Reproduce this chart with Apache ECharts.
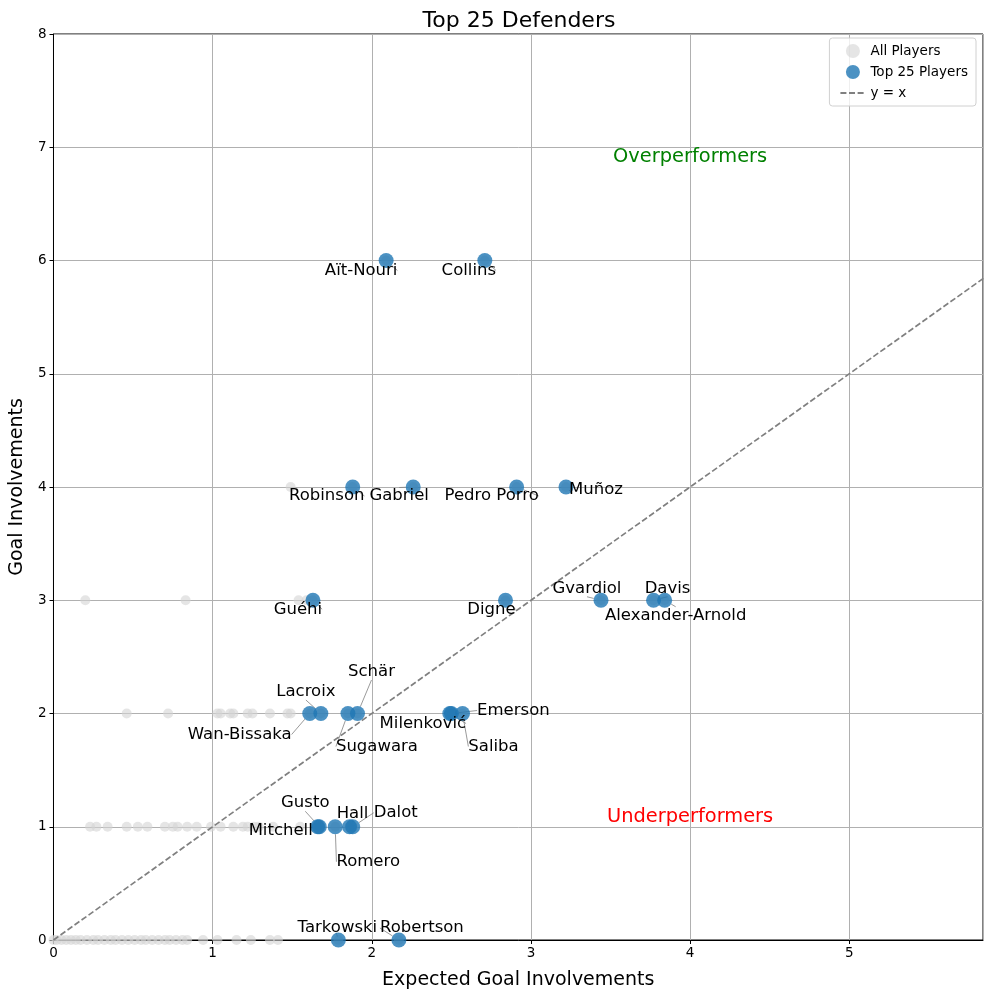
<!DOCTYPE html>
<html>
<head>
<meta charset="utf-8">
<script src="https://cdn.jsdelivr.net/npm/echarts@6/dist/echarts.min.js"></script>
<style>
  html, body { margin: 0; padding: 0; background: #fff; }
  #chart { width: 993px; height: 998px; }
</style>
</head>
<body>
<div id="chart"></div>
<script>
// top 25 defenders
var topNames = ['Aït-Nouri', 'Collins', 'Robinson', 'Gabriel', 'Pedro Porro', 'Muñoz',
  'Guéhi', 'Digne', 'Gvardiol', 'Davis', 'Alexander-Arnold',
  'Wan-Bissaka', 'Lacroix', 'Sugawara', 'Schär', 'Milenković', 'Emerson', 'Saliba',
  'Mitchell', 'Gusto', 'Romero', 'Hall', 'Dalot', 'Tarkowski', 'Robertson'];
var topXg = [2.09, 2.71, 1.88, 2.26, 2.91, 3.22,
  1.63, 2.84, 3.44, 3.77, 3.84,
  1.61, 1.68, 1.85, 1.91, 2.49, 2.50, 2.57,
  1.66, 1.67, 1.77, 1.86, 1.88, 1.79, 2.17];
var topGi = [6, 6, 4, 4, 4, 4,
  3, 3, 3, 3, 3,
  2, 2, 2, 2, 2, 2, 2,
  1, 1, 1, 1, 1, 0, 0];

// other players, grouped by goal involvements
var restGi0 = [0.00, 0.02, 0.05, 0.08, 0.11, 0.14, 0.17, 0.21, 0.25, 0.28, 0.32, 0.36, 0.39,
  0.43, 0.47, 0.51, 0.55, 0.58, 0.62, 0.66, 0.70, 0.73, 0.77, 0.81, 0.84,
  0.94, 1.03, 1.15, 1.24, 1.36, 1.41];
var restGi1 = [0.23, 0.27, 0.34, 0.46, 0.53, 0.59, 0.70, 0.75, 0.78, 0.84, 0.90, 0.99,
  1.05, 1.13, 1.19, 1.22, 1.26, 1.29, 1.38, 1.55];
var restGi2 = [0.46, 0.72, 1.03, 1.05, 1.11, 1.13, 1.22, 1.25, 1.36, 1.47, 1.49];
var restGi3 = [0.20, 0.83, 1.54, 1.59];
var restGi4 = [1.49];

var xTicks = [0, 1, 2, 3, 4, 5];
var yTicks = [0, 1, 2, 3, 4, 5, 6, 7, 8];

// label placement (pixel shift from the point centre)
var labelShift = {
  'Aït-Nouri': [-25, 10], 'Collins': [-16, 10], 'Robinson': [-26, 9], 'Gabriel': [-14, 9],
  'Pedro Porro': [-25, 9], 'Muñoz': [30, 3], 'Guéhi': [-15, 9], 'Digne': [-14, 9],
  'Gvardiol': [-14, -12], 'Davis': [14, -12], 'Alexander-Arnold': [11, 15],
  'Wan-Bissaka': [-70, 21], 'Lacroix': [-15, -22], 'Sugawara': [29, 33], 'Schär': [14, -42],
  'Milenković': [-27, 10], 'Emerson': [62, -3], 'Saliba': [31, 33],
  'Mitchell': [-37, 4], 'Gusto': [-14, -24], 'Romero': [33, 35], 'Hall': [3, -13],
  'Dalot': [43, -14], 'Tarkowski': [-1, -12], 'Robertson': [23, -12]
};

var restData = [];
[restGi0, restGi1, restGi2, restGi3, restGi4].forEach(function (arr, gi) {
  arr.forEach(function (x) { restData.push([x, gi]); });
});
topNames.forEach(function (n, i) { restData.push([topXg[i], topGi[i]]); });

var topData = topNames.map(function (n, i) {
  return { name: n, value: [topXg[i], topGi[i]] };
});

var font = 'DejaVu Sans';
var chart = echarts.init(document.getElementById('chart'));
chart.setOption({
  animation: false,
  textStyle: { fontFamily: font },
  title: {
    text: 'Top 25 Defenders', left: 514, top: 5, textAlign: 'center',
    textStyle: { fontFamily: font, fontSize: 22, fontWeight: 'normal', color: '#000' }
  },
  grid: {
    left: 53, right: 10, top: 34, bottom: 58, show: true,
    borderColor: '#000', borderWidth: 1, backgroundColor: 'transparent'
  },
  legend: {
    orient: 'vertical', right: 17, top: 38,
    data: [
      { name: 'All Players' },
      { name: 'Top 25 Players' },
      { name: 'y = x', itemStyle: { color: 'rgba(0,0,0,0)', borderWidth: 0 } }
    ],
    backgroundColor: 'rgba(255,255,255,0.8)',
    borderColor: '#d0d0d0', borderWidth: 1, borderRadius: 3,
    padding: [6, 8, 6, 10], itemGap: 7, itemWidth: 25, itemHeight: 14,
    textStyle: { fontFamily: font, fontSize: 13.5, color: '#000' }
  },
  xAxis: {
    type: 'value', min: 0, max: 5.84, interval: 1,
    name: 'Expected Goal Involvements', nameLocation: 'middle', nameGap: 31,
    nameTextStyle: { fontFamily: font, fontSize: 19, color: '#000' },
    axisLine: { show: true, lineStyle: { color: '#000' } },
    axisTick: { show: true, length: 4, lineStyle: { color: '#000' } },
    axisLabel: {
      fontFamily: font, fontSize: 13.5, color: '#000', margin: 6, showMaxLabel: false,
      formatter: function (v) { return xTicks.indexOf(v) >= 0 ? String(v) : ''; }
    },
    splitLine: { show: true, lineStyle: { color: '#b0b0b0', width: 1 } }
  },
  yAxis: {
    type: 'value', min: 0, max: 8, interval: 1,
    name: 'Goal Involvements', nameLocation: 'middle', nameGap: 22,
    nameTextStyle: { fontFamily: font, fontSize: 19, color: '#000' },
    axisLine: { show: true, lineStyle: { color: '#000' } },
    axisTick: { show: true, length: 4, lineStyle: { color: '#000' } },
    axisLabel: {
      fontFamily: font, fontSize: 13.5, color: '#000', margin: 7,
      formatter: function (v) { return yTicks.indexOf(v) >= 0 ? String(v) : ''; }
    },
    splitLine: { show: true, lineStyle: { color: '#b0b0b0', width: 1 } }
  },
  series: [
    {
      name: 'All Players', type: 'scatter', data: restData, symbolSize: 10,
      itemStyle: { color: 'rgba(211,211,211,0.6)', opacity: 1 }, z: 2
    },
    {
      name: 'y = x', type: 'line', data: [[0, 0], [8, 8]], showSymbol: false, symbol: 'none',
      clip: true, lineStyle: { color: '#808080', width: 1.7, type: [6, 2.6] },
      itemStyle: { color: '#808080' }, z: 3
    },
    {
      name: 'Top 25 Players', type: 'scatter', data: topData, symbolSize: 15,
      itemStyle: { color: 'rgba(31,119,180,0.8)', opacity: 1 }, z: 4,
      label: {
        show: true, formatter: '{b}', position: 'inside',
        fontFamily: font, fontSize: 16.5, color: '#000'
      },
      labelLine: { show: true, lineStyle: { color: '#808080', width: 0.8 } },
      labelLayout: function (p) {
        var s = labelShift[topNames[p.dataIndex]] || [0, 0];
        return {
          x: p.rect.x + p.rect.width / 2 + s[0],
          y: p.rect.y + p.rect.height / 2 + s[1],
          align: 'center', verticalAlign: 'middle'
        };
      }
    },
    {
      type: 'scatter', symbolSize: 0, silent: true, z: 5,
      itemStyle: { opacity: 1 },
      data: [
        { value: [4, 6.91], label: { show: true, formatter: 'Overperformers', color: '#008000', fontSize: 19.4, fontFamily: font } },
        { value: [4, 1.09], label: { show: true, formatter: 'Underperformers', color: '#ff0000', fontSize: 19.4, fontFamily: font } }
      ],
      label: { show: true, position: 'inside', fontFamily: font, fontSize: 19.4 }
    }
  ]
});
</script>
</body>
</html>
